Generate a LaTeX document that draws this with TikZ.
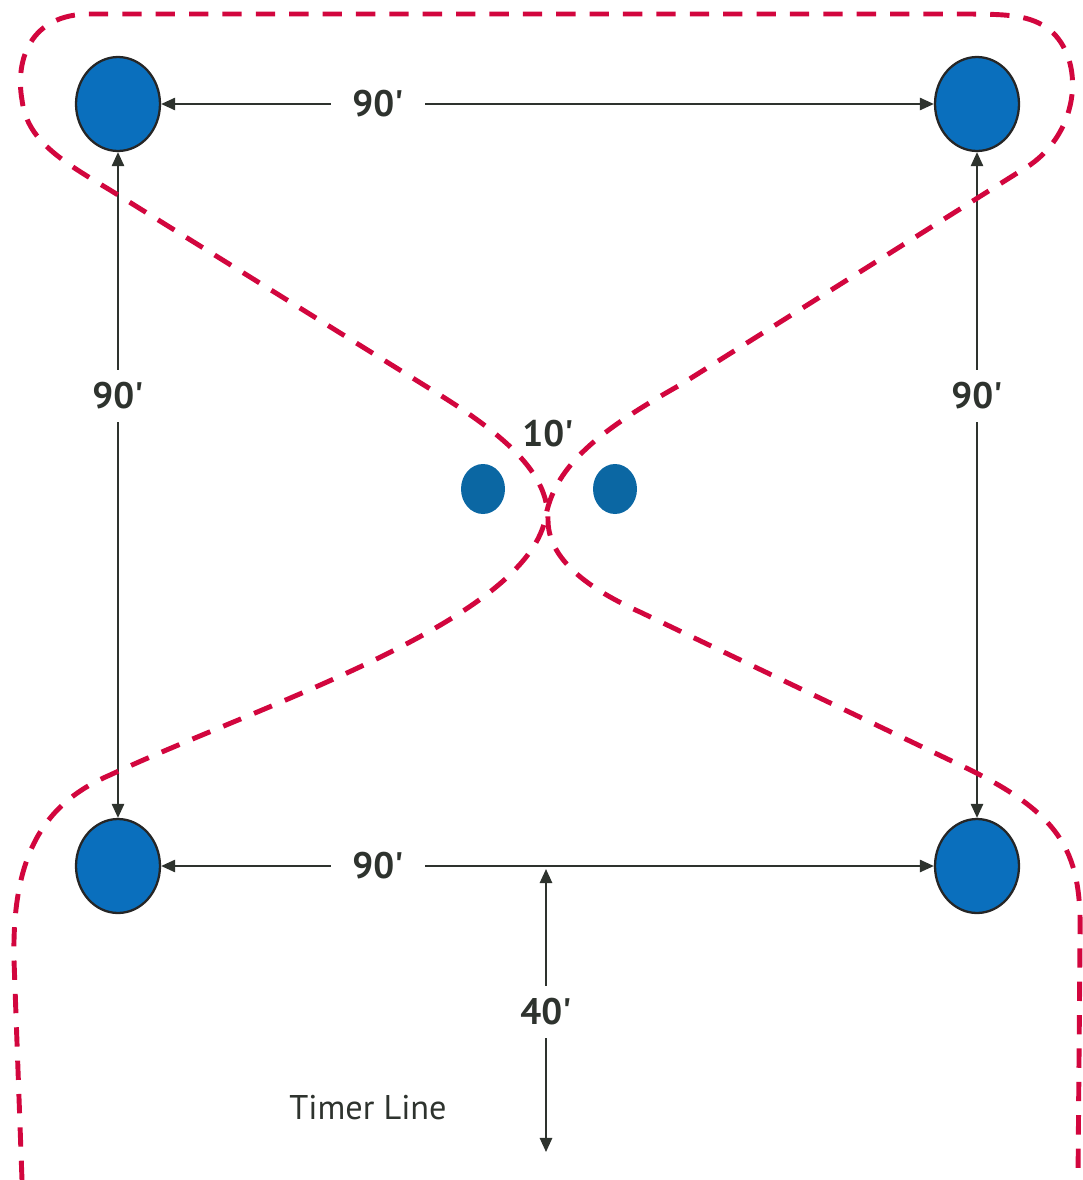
\documentclass[tikz,border=0pt]{standalone}
\usepackage{fontspec}
\setmainfont{PT Sans}
\usepackage{tikz}
\usetikzlibrary{arrows.meta,shapes.geometric}
\definecolor{baseBlue}{HTML}{0A6FBD}
\definecolor{spotBlue}{HTML}{0B67A3}
\definecolor{runRed}{HTML}{D2063E}
\definecolor{dimGray}{HTML}{2E332E}
\newcommand{\ft}{\textquotesingle}
\tikzset{
  bagdisc/.style={ellipse, draw=black!85, line width=1.3pt, fill=baseBlue,
    minimum width=1.68cm, minimum height=1.88cm, inner sep=0pt},
  spotdisc/.style={ellipse, fill=spotBlue, minimum width=0.88cm,
    minimum height=1.0cm, inner sep=0pt},
  distlabel/.style={font=\fontsize{21}{24}\selectfont\bfseries, text=dimGray,
    inner xsep=12pt, inner ysep=7pt},
  dimarrow/.style={-{Triangle[length=8pt,width=7pt]}, line width=1.1pt, draw=dimGray},
  runpath/.style={draw=runRed, line width=2.8pt, dash pattern=on 11pt off 8pt}
}

\begin{document}
\begin{tikzpicture}[x=0.02cm,y=-0.02cm]
  \useasboundingbox (0,0) rectangle (1082,1180);

  % bases
  \node[bagdisc] (first)  at (977,866) {};
  \node[bagdisc] (second) at (977,104) {};
  \node[bagdisc] (third)  at (118,104) {};
  \node[bagdisc] (home)   at (118,866) {};

  % middle spots
  \node[spotdisc] (spotL) at (483,489) {};
  \node[spotdisc] (spotR) at (615,489) {};

  % distances
  \node[distlabel] (dTop)    at (378,104) {90\ft};
  \node[distlabel] (dLeft)   at (118,396) {90\ft};
  \node[distlabel] (dRight)  at (977,396) {90\ft};
  \node[distlabel] (dBottom) at (378,866) {90\ft};
  \node[distlabel] (dMid)    at (548,434) {10\ft};
  \node[distlabel] (dTimer)  at (546,1012) {40\ft};
  \node[font=\fontsize{19.5}{23}\selectfont, text=dimGray] (timer) at (368,1108) {Timer Line};

  \coordinate (lineMid) at (546,869);
  \coordinate (timerEnd) at (546,1152);

  \draw[dimarrow] (dTop) -- (third);
  \draw[dimarrow] (dTop) -- (second);
  \draw[dimarrow] (dLeft) -- (third);
  \draw[dimarrow] (dLeft) -- (home);
  \draw[dimarrow] (dRight) -- (second);
  \draw[dimarrow] (dRight) -- (first);
  \draw[dimarrow] (dBottom) -- (home);
  \draw[dimarrow] (dBottom) -- (first);
  \draw[dimarrow] (dTimer) -- (lineMid);
  \draw[dimarrow] (dTimer) -- (timerEnd);

  % running lane
  \draw[runpath] (22,1180) -- (14,960)
    .. controls (12,860) and (40,805) .. (110,775)
    .. controls (260,705) and (530,620) .. (546,515)
    .. controls (556,465) and (600,430) .. (680,385)
    -- (1030,165)
    .. controls (1080,130) and (1085,60) .. (1050,30)
    .. controls (1030,15) and (1010,14) .. (960,14)
    -- (90,14)
    .. controls (30,14) and (15,60) .. (22,100)
    .. controls (27,140) and (60,160) .. (110,190)
    -- (440,395)
    .. controls (520,445) and (548,480) .. (548,520)
    .. controls (548,555) and (580,585) .. (640,612)
    -- (960,765)
    .. controls (1066,815) and (1082,855) .. (1080,940)
    -- (1078,1180);
\end{tikzpicture}
\end{document}
